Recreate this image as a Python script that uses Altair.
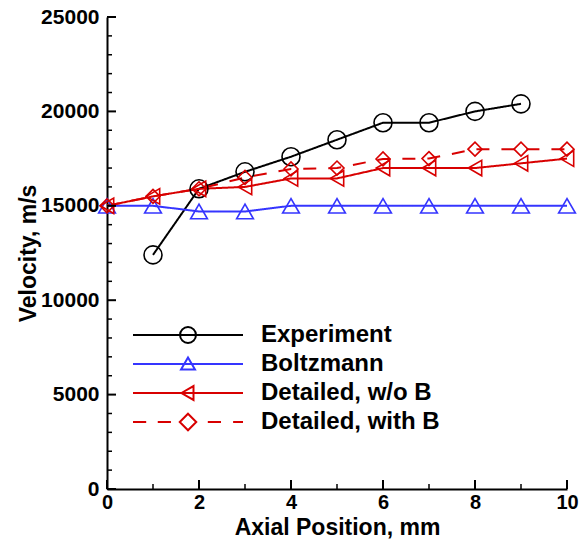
import altair as alt
import pandas as pd

series_names = ["Experiment", "Boltzmann", "Detailed, w/o B", "Detailed, with B"]

exp_x = [1, 2, 3, 4, 5, 6, 7, 8, 9]
exp_v = [12400, 15900, 16800, 17600, 18500, 19400, 19400, 20000, 20400]

sim_x = [0, 1, 2, 3, 4, 5, 6, 7, 8, 9, 10]
boltz_v = [15000, 15000, 14700, 14700, 15000, 15000, 15000, 15000, 15000, 15000, 15000]
det_nob_v = [15000, 15500, 15900, 16000, 16450, 16450, 17000, 17000, 17000, 17250, 17500]
det_b_v = [15000, 15500, 15900, 16500, 16950, 17000, 17480, 17500, 18000, 18000, 18000]

x_major = [0, 2, 4, 6, 8, 10]
x_minor = [1, 3, 5, 7, 9]
y_major = [0, 5000, 10000, 15000, 20000, 25000]
y_minor = [1000, 2000, 3000, 4000, 6000, 7000, 8000, 9000, 11000, 12000, 13000, 14000,
           16000, 17000, 18000, 19000, 21000, 22000, 23000, 24000]

colors = ["#000000", "#3535ff", "#d80000", "#d80000"]
shapes = ["circle", "triangle-up", "triangle-left", "diamond"]
dashes = [[1, 0], [1, 0], [1, 0], [13, 12]]
sizes = [324, 196, 196, 289]

# legend symbols: line + marker, in unit coordinates
legend_paths = [
    "M-1,0L1,0M-0.145,0A0.145,0.145 0 1,0 0.145,0A0.145,0.145 0 1,0 -0.145,0Z",
    "M-1,0L1,0M0,-0.12L0.127,0.1L-0.127,0.1Z",
    "M-1,0L1,0M-0.12,0L0.1,-0.127L0.1,0.127Z",
    "M-1,0L-0.76,0M-0.55,0L-0.31,0M0.36,0L0.6,0M0.82,0L1,0M0,-0.15L0.15,0L0,0.15L-0.15,0Z",
]

rows = []
for x, v in zip(exp_x, exp_v):
    rows.append({"series": series_names[0], "x": x, "v": v})
for name, vals in zip(series_names[1:], [boltz_v, det_nob_v, det_b_v]):
    for x, v in zip(sim_x, vals):
        rows.append({"series": name, "x": x, "v": v})
df = pd.DataFrame(rows)

FONT = "Liberation Sans"
W, H = 460, 472

xscale = alt.Scale(domain=[0, 10], nice=False, zero=False)
yscale = alt.Scale(domain=[0, 25000], nice=False, zero=False)

x_axis = alt.Axis(values=x_major, format="d", ticks=False, grid=False,
                  domain=True, domainColor="black", domainWidth=2,
                  labelFont=FONT, labelFontSize=20, labelFontWeight="bold",
                  labelColor="black", labelPadding=3, labelFlush=False,
                  labelOverlap=False,
                  title="Axial Position, mm", titleFont=FONT, titleFontSize=23,
                  titleFontWeight="bold", titleColor="black",
                  titleX=W / 2, titleY=38, titleBaseline="middle", titleAlign="center")
y_axis = alt.Axis(values=y_major, format="d", ticks=False, grid=False,
                  domain=True, domainColor="black", domainWidth=2,
                  labelFont=FONT, labelFontSize=21, labelFontWeight="bold",
                  labelColor="black", labelPadding=8, labelFlush=False,
                  labelOverlap=False,
                  title="Velocity, m/s", titleFont=FONT, titleFontSize=23,
                  titleFontWeight="bold", titleColor="black",
                  titleX=-79, titleY=H / 2, titleAngle=-90,
                  titleBaseline="middle", titleAlign="center")

X = lambda f: alt.X(f, scale=xscale, axis=x_axis)
Y = lambda f: alt.Y(f, scale=yscale, axis=y_axis)

color_enc = alt.Color("series:N", scale=alt.Scale(domain=series_names, range=colors), legend=None)

lines = alt.Chart(df).mark_line(strokeWidth=2).encode(
    x=X("x:Q"),
    y=Y("v:Q"),
    color=color_enc,
    strokeDash=alt.StrokeDash("series:N", scale=alt.Scale(domain=series_names, range=dashes), legend=None),
    detail="series:N",
)

points = alt.Chart(df).mark_point(filled=False, strokeWidth=1.6, opacity=1).encode(
    x=X("x:Q"),
    y=Y("v:Q"),
    color=color_enc,
    shape=alt.Shape("series:N", scale=alt.Scale(domain=series_names, range=shapes), legend=None),
    size=alt.Size("series:N", scale=alt.Scale(domain=series_names, range=sizes), legend=None),
)

ymaj_df = pd.DataFrame({"x": [0] * len(y_major), "v": y_major})
ymin_df = pd.DataFrame({"x": [0] * len(y_minor), "v": y_minor})
xmaj_df = pd.DataFrame({"x": x_major, "v": [0] * len(x_major)})
xmin_df = pd.DataFrame({"x": x_minor, "v": [0] * len(x_minor)})

ytick_major = alt.Chart(ymaj_df).mark_rule(color="black", strokeWidth=2).encode(
    y=Y("v:Q"), x=alt.value(0), x2=alt.value(9))
ytick_minor = alt.Chart(ymin_df).mark_rule(color="black", strokeWidth=1.5).encode(
    y=Y("v:Q"), x=alt.value(0), x2=alt.value(5))
xtick_major = alt.Chart(xmaj_df).mark_rule(color="black", strokeWidth=2).encode(
    x=X("x:Q"), y=alt.value(H), y2=alt.value(H - 9))
xtick_minor = alt.Chart(xmin_df).mark_rule(color="black", strokeWidth=1.5).encode(
    x=X("x:Q"), y=alt.value(H), y2=alt.value(H - 5))

leg = alt.Legend(title=None, orient="none", legendX=25, legendY=303.5,
                 clipHeight=29, symbolSize=12100, symbolStrokeWidth=2,
                 symbolOpacity=1, symbolOffset=0, padding=0, rowPadding=0,
                 labelFont=FONT, labelFontSize=24, labelFontWeight="bold",
                 labelColor="black", labelOffset=17, labelLimit=400)

legend_layer = alt.Chart(df).mark_point(filled=False, opacity=0).encode(
    x=X("x:Q"),
    y=Y("v:Q"),
    color=alt.Color("series:N", scale=alt.Scale(domain=series_names, range=colors), legend=leg),
    shape=alt.Shape("series:N", scale=alt.Scale(domain=series_names, range=legend_paths), legend=leg),
)

chart = alt.layer(
    lines, points, ytick_major, ytick_minor, xtick_major, xtick_minor, legend_layer
).resolve_scale(
    color="independent", shape="independent", strokeDash="independent", size="independent"
).properties(
    width=W, height=H,
    autosize=alt.AutoSizeParams(type="none"),
    padding={"left": 107, "top": 17, "right": 16, "bottom": 53},
    background="white",
).configure_view(stroke=None)

chart.save("out.html", embed_options={"renderer": "svg", "actions": False})
